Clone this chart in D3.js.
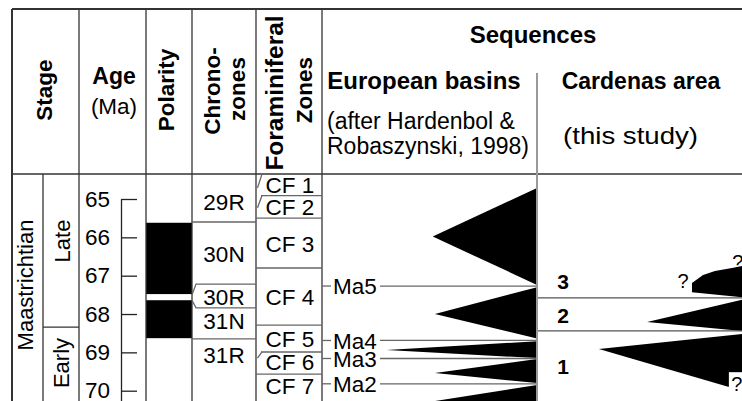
<!DOCTYPE html>
<html>
<head>
<meta charset="utf-8">
<script src="https://cdn.jsdelivr.net/npm/d3@7"></script>
<style>
  body { margin: 0; background: #fff; }
  svg { display: block; font-family: "Liberation Sans", Arial, sans-serif; }
</style>
</head>
<body>
<div id="chart"></div>
<script>
// STRATIGRAPHIC CHART - Maastrichtian sequences

// age axis (Ma)
var ageTicks = [65, 66, 67, 68, 69, 70];
var stageBounds = [68.34]; // late / early maastrichtian

// polarity: black = normal
var polarityNormal = [[65.62, 67.48], [67.64, 68.63]];

// chronozones
var chronoNames = ["29R", "30N", "30R", "31N", "31R"];
var chronoLabelAge = [65.08, 66.43, 67.56, 68.18, 69.06];
var chronoBounds = [65.6, 68.65];
var chronoBracket = [67.22, 67.5, 67.64, 67.84]; // expanded 30R box -> polarity gap

// foraminiferal zones
var foramNames = ["CF 1", "CF 2", "CF 3", "CF 4", "CF 5", "CF 6", "CF 7"];
var foramLabelAge = [64.64, 65.2, 66.17, 67.56, 68.65, 69.26, 69.87];
var foramBounds = [64.91, 65.5, 66.8, 68.29, 68.99, 69.57];
var foramSlash = [[64.71, 64.35], [65.23, 64.91], [69.15, 68.99]]; // [lower end, upper end]

// european basins sequences (Hardenbol & Robaszynski 1998)
var euroNames = ["Ma5", "Ma4", "Ma3", "Ma2"];
var euroAges = [67.27, 68.69, 69.16, 69.82];
var euroTops = [64.71, 67.3, 68.71, 69.17, 69.85];
var euroApex = [65.98, 68.0, 68.94, 69.54, 70.27];
var euroBottoms = [67.24, 68.64, 69.15, 69.8, 70.9];
var euroWidth = [48.5, 47.5, 70, 47.5, 47.5]; // how far the wedge reaches, 0-100

// cardenas area sequences (this study)
var cardNames = ["3", "2", "1"];
var cardLabelAge = [67.14, 68.04, 69.36];
var cardBounds = [67.58, 68.44];
var cardShapes = [
  [[66.75, 0], [66.8, 4.9], [66.88, 13.2], [66.98, 19], [67.19, 24.4], [67.43, 24.4], [67.56, 0]],
  [[67.63, 0], [68.21, 46.3], [68.44, 0]],
  [[68.52, 0], [68.91, 69.8], [69.9, 6.8], [69.9, 0]]
];
var cardQuery = [[67.14, 28.8], [66.64, 2], [69.83, 2.5]]; // "?" marks [age, width]

var width = 742, height = 401;

var colX = [12, 43, 79, 146, 192, 256, 322, 537, 742]; // column edges
var headTop = 9, headBottom = 174;

var svg = d3.select("#chart").append("svg")
    .attr("width", width)
    .attr("height", height);

var y = d3.scaleLinear().domain([65, 70]).range([199, 390.7]);
var xEuro = d3.scaleLinear().domain([0, 100]).range([colX[7], colX[6]]);
var xCard = d3.scaleLinear().domain([0, 100]).range([colX[8], colX[7]]);

function text(x, yy, str, size, bold, anchor, rot) {
  var t = svg.append("text")
      .attr("font-size", size)
      .attr("font-weight", bold ? "bold" : "normal")
      .attr("text-anchor", anchor || "middle")
      .attr("fill", "#000")
      .text(str);
  if (rot) t.attr("transform", "translate(" + x + "," + yy + ") rotate(-90)");
  else t.attr("x", x).attr("y", yy);
  return t;
}

// polarity blocks
svg.selectAll(".pol")
    .data(polarityNormal)
  .enter().append("rect")
    .attr("x", colX[3])
    .attr("width", colX[4] - colX[3])
    .attr("y", function(d) { return y(d[0]); })
    .attr("height", function(d) { return y(d[1]) - y(d[0]); })
    .attr("fill", "#000");

// sequence wedges
var euroLine = d3.line()
    .x(function(d) { return xEuro(d[1]); })
    .y(function(d) { return y(d[0]); });
var cardLine = d3.line()
    .x(function(d) { return xCard(d[1]); })
    .y(function(d) { return y(d[0]); });

var euroData = euroTops.map(function(t, i) {
  return [[t, 0], [euroApex[i], euroWidth[i]], [euroBottoms[i], 0]];
});

svg.selectAll(".euro")
    .data(euroData)
  .enter().append("path")
    .attr("d", function(d) { return euroLine(d) + "Z"; })
    .attr("fill", "#000");

svg.selectAll(".card")
    .data(cardShapes)
  .enter().append("path")
    .attr("d", function(d) { return cardLine(d) + "Z"; })
    .attr("fill", "#000");

// age axis: line with ticks to the right, labels on the left
var axisScale = y.copy().domain([65, 70.3]).range([y(65), y(70.3)]);
var axis = svg.append("g")
    .attr("transform", "translate(121,0)")
    .call(d3.axisLeft(axisScale)
      .tickValues(ageTicks)
      .tickSizeInner(-16)
      .tickSizeOuter(0)
      .tickPadding(11)
      .tickFormat(d3.format("d")));
axis.selectAll("path, line").attr("stroke", "#222").attr("stroke-width", 1.3);
axis.selectAll("text")
    .attr("font-size", 22.5)
    .attr("font-family", "Liberation Sans, Arial, sans-serif")
    .attr("fill", "#000");

// table frame
var grid = svg.append("g")
    .attr("fill", "none")
    .attr("stroke", "#333")
    .attr("stroke-width", 1.3);

grid.append("path").attr("d", "M" + colX[0] + "," + headTop + "H" + width).attr("stroke-width", 2);
grid.append("path").attr("d", "M" + colX[0] + "," + headTop + "V" + height).attr("stroke-width", 2);
grid.append("path").attr("d", "M" + colX[0] + "," + headBottom + "H" + width).attr("stroke-width", 1.6);
[2, 3, 4, 5, 6].forEach(function(i) {
  grid.append("path").attr("d", "M" + colX[i] + "," + headTop + "V" + height);
});
grid.append("path").attr("d", "M" + colX[1] + "," + headBottom + "V" + height);

stageBounds.forEach(function(a) {
  grid.append("path").attr("d", "M" + colX[1] + "," + y(a) + "H" + colX[2]);
});

// chronozone boundaries
chronoBounds.forEach(function(a) {
  grid.append("path").attr("d", "M" + colX[4] + "," + y(a) + "H" + colX[5]).attr("stroke", "#666");
});
var b = chronoBracket;
grid.append("path")
    .attr("stroke", "#666")
    .attr("d", "M" + colX[5] + "," + y(b[0]) + "H" + (colX[4] + 4) + "L" + colX[4] + "," + y(b[1]) +
               "M" + colX[4] + "," + y(b[2]) + "L" + (colX[4] + 4) + "," + y(b[3]) + "H" + colX[5]);

// foraminiferal boundaries
foramBounds.forEach(function(a) {
  var slashed = foramSlash.some(function(s) { return Math.abs(s[1] - a) < 0.01; });
  grid.append("path")
      .attr("stroke", "#666")
      .attr("d", "M" + (colX[5] + (slashed ? 5 : 0)) + "," + y(a) + "H" + colX[6]);
});
foramSlash.forEach(function(s) {
  grid.append("path")
      .attr("stroke", "#666")
      .attr("d", "M" + (colX[5] + 1.5) + "," + y(s[0]) + "L" + (colX[5] + 6) + "," + y(s[1]));
});

// european sequence boundaries
euroAges.forEach(function(a) {
  grid.append("path").attr("stroke", "#666").attr("d", "M" + colX[6] + "," + y(a) + "h9");
  grid.append("path").attr("stroke", "#666").attr("d", "M380," + y(a) + "H" + colX[7]);
});

// cardenas boundaries
cardBounds.forEach(function(a) {
  grid.append("path").attr("stroke", "#555").attr("d", "M" + colX[7] + "," + y(a) + "H" + colX[8]);
});

// divider between the two sequence columns
grid.append("path")
    .attr("stroke", "#9a9a9a")
    .attr("stroke-width", 2)
    .attr("d", "M" + colX[7] + ",73V" + height);

// headers
text(51.5, 90, "Stage", 22.5, true, "middle", true);
text(114, 84, "Age", 23, true);
text(114, 114, "(Ma)", 22.5, false);
text(173.5, 90, "Polarity", 22.5, true, "middle", true);
text(220, 91, "Chrono-", 22.5, true, "middle", true);
text(245, 89, "zones", 22.5, true, "middle", true);
text(283, 93, "Foraminiferal", 24.5, true, "middle", true);
text(311.5, 90, "Zones", 22.5, true, "middle", true);
text(533, 43, "Sequences", 24, true);
text(424, 89, "European basins", 24, true);
text(327, 129, "(after Hardenbol &", 23, false, "start");
text(327, 154, "Robaszynski, 1998)", 23, false, "start");
text(641, 89, "Cardenas area", 23, true);
text(0, 0, "(this study)", 23, false)
    .attr("transform", "translate(630.5,144) scale(1.2,1)");

// stage labels
text(33, 285, "Maastrichtian", 22, false, "middle", true);
text(70, 241, "Late", 22, false, "middle", true);
text(69, 363, "Early", 22, false, "middle", true);

// zone labels
svg.selectAll(".chrono")
    .data(chronoNames)
  .enter().append("text")
    .attr("x", (colX[4] + colX[5]) / 2)
    .attr("y", function(d, i) { return y(chronoLabelAge[i]); })
    .attr("dy", "0.36em")
    .attr("text-anchor", "middle")
    .attr("font-size", 22.5)
    .text(function(d) { return d; });

svg.selectAll(".foram")
    .data(foramNames)
  .enter().append("text")
    .attr("x", (colX[5] + colX[6]) / 2 + 1)
    .attr("y", function(d, i) { return y(foramLabelAge[i]); })
    .attr("dy", "0.36em")
    .attr("text-anchor", "middle")
    .attr("font-size", 22.5)
    .text(function(d) { return d; });

svg.selectAll(".ma")
    .data(euroNames)
  .enter().append("text")
    .attr("x", 333)
    .attr("y", function(d, i) { return y(euroAges[i]); })
    .attr("dy", "0.36em")
    .attr("font-size", 22.5)
    .text(function(d) { return d; });

svg.selectAll(".cardnum")
    .data(cardNames)
  .enter().append("text")
    .attr("x", 563)
    .attr("y", function(d, i) { return y(cardLabelAge[i]); })
    .attr("dy", "0.36em")
    .attr("text-anchor", "middle")
    .attr("font-size", 21)
    .attr("font-weight", "bold")
    .text(function(d) { return d; });

// question marks (last one sits in a white box over the wedge)
cardQuery.forEach(function(q, i) {
  var qx = xCard(q[1]), qy = y(q[0]);
  if (i == 2) {
    svg.append("rect")
        .attr("x", qx - 8).attr("y", qy - 12)
        .attr("width", 20).attr("height", 30)
        .attr("fill", "#fff");
  }
  svg.append("text")
      .attr("x", qx)
      .attr("y", qy)
      .attr("dy", "0.36em")
      .attr("text-anchor", "middle")
      .attr("font-size", 20)
      .text("?");
});
</script>
</body>
</html>
